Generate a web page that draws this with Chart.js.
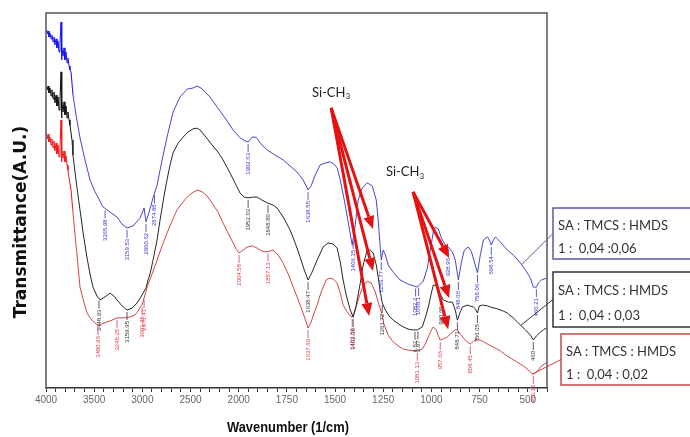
<!DOCTYPE html>
<html>
<head>
<meta charset="utf-8">
<script src="https://cdn.jsdelivr.net/npm/chart.js@4/dist/chart.umd.min.js"></script>
<style>
  body { margin: 0; background: #fff; }
  #wrap { width: 690px; height: 437px; }
</style>
</head>
<body>
<div id="wrap"><canvas id="ftir" width="690" height="437"></canvas></div>
<script>
// FTIR spectra, wavenumber (1/cm) vs transmittance (A.U., 0-100)
const blueWn = [3993,3984,3979,3969,3958,3948,3938,3927,3917,3907,3896,3886,3875,3865,3855,3844,3839,3834,3823,3813,3803,3792,3782,3772,3761,3751,3740,3720,3688,3647,3595,3543,3491,3408,3335,3263,3211,3159,3097,3024,2982,2962,2930,2889,2847,2795,2744,2681,2609,2536,2474,2432,2390,2297,2224,2141,2058,1993,1967,1951,1930,1910,1879,1853,1811,1769,1733,1697,1666,1650,1640,1624,1603,1577,1551,1525,1505,1489,1473,1452,1432,1411,1395,1380,1359,1333,1307,1286,1276,1265,1260,1250,1239,1224,1198,1162,1120,1073,1042,1021,1006,990,980,964,948,928,912,891,876,860,844,829,808,792,777,761,746,730,709,699,689,678,668,642,606,569,538,512,486,471,455,445,429,414,403];
const blueT = [95.5,94.4,95.2,93.6,94.7,93.1,94.1,92.3,93.6,91.5,93.1,90.7,92.5,89.6,91.7,97.6,87.5,91.2,88.5,90.7,87.5,89.6,86.7,88.0,85.9,84.8,84.3,78.1,72.8,66.7,60.8,55.5,52.3,48.3,46.9,45.6,43.7,42.7,43.2,45.3,48.0,44.3,46.9,50.7,54.1,60.8,66.9,73.6,77.6,79.7,80.0,80.5,80.0,77.6,74.9,72.0,68.8,66.7,65.9,65.6,66.9,66.9,64.8,63.5,62.1,60.8,59.2,57.6,55.5,53.9,52.8,53.9,56.8,59.5,60.0,60.3,59.7,58.7,55.5,50.1,44.3,38.1,43.5,50.1,53.3,54.7,53.9,50.1,44.8,37.3,34.1,36.8,35.5,32.8,30.9,28.8,27.7,26.9,28.5,32.0,36.8,41.6,42.9,42.4,40.0,38.1,37.6,36.3,34.1,28.8,33.6,36.8,37.6,36.3,33.6,30.7,35.5,39.5,40.3,39.5,38.1,39.5,40.3,38.9,36.8,35.2,33.3,31.5,29.3,26.9,26.9,28.0,28.8,29.1,29.3];

const blackWn = [3993,3984,3979,3969,3958,3948,3938,3927,3917,3907,3896,3886,3875,3865,3855,3844,3839,3834,3823,3813,3803,3792,3782,3772,3761,3751,3730,3720,3699,3678,3647,3616,3574,3543,3512,3470,3439,3387,3335,3294,3263,3211,3159,3107,3055,3014,2993,2962,2941,2920,2889,2847,2816,2775,2744,2712,2681,2629,2577,2525,2474,2432,2401,2349,2276,2214,2162,2089,2027,1993,1972,1951,1930,1904,1879,1848,1822,1801,1769,1733,1707,1681,1660,1640,1619,1593,1562,1536,1510,1489,1473,1458,1442,1421,1406,1390,1369,1354,1333,1317,1302,1286,1276,1265,1255,1239,1219,1198,1172,1146,1120,1099,1073,1047,1032,1016,1000,990,975,964,948,938,912,891,876,865,850,839,813,782,772,761,751,735,709,694,657,626,606,575,538,512,486,471,455,434,419,403];
const blackT = [80.3,79.5,80.5,78.7,80.0,77.9,79.5,77.1,78.9,76.0,78.1,75.2,77.6,74.1,77.1,84.3,72.0,76.8,73.6,76.3,72.8,75.2,72.0,73.6,71.5,70.1,66.1,62.1,57.6,53.3,47.5,41.6,34.7,30.4,26.9,24.5,23.5,24.3,25.3,24.5,23.5,21.9,20.8,21.3,22.7,24.3,25.3,26.7,28.8,30.4,34.1,39.5,44.8,51.2,55.5,59.5,62.7,65.3,66.9,68.3,69.1,69.3,68.8,67.2,64.8,62.9,60.8,57.3,54.1,52.0,50.9,50.7,50.9,50.9,50.1,49.3,48.8,48.0,45.6,42.1,38.7,34.9,31.5,28.8,30.9,34.1,37.6,38.7,38.4,37.3,33.6,28.8,24.8,20.8,18.9,22.1,28.0,32.8,36.8,36.8,36.0,32.8,29.6,25.6,22.7,20.8,19.2,18.1,17.1,16.3,15.7,15.5,15.5,16.3,18.7,21.6,25.3,27.5,27.2,26.1,24.5,23.5,22.9,22.9,20.8,18.1,20.3,21.6,22.1,21.6,21.1,20.0,21.9,22.1,21.9,21.6,21.1,20.5,20.0,18.7,16.8,15.5,14.1,12.8,13.9,14.9,15.5,16.0];

const redWn = [3993,3984,3979,3969,3958,3948,3938,3927,3917,3907,3896,3886,3875,3865,3855,3844,3839,3834,3823,3813,3803,3792,3782,3772,3761,3740,3720,3699,3678,3647,3605,3574,3533,3491,3460,3418,3367,3315,3263,3200,3128,3076,3045,3024,3003,2982,2951,2899,2847,2795,2744,2692,2640,2588,2536,2484,2432,2380,2328,2276,2214,2162,2110,2058,2027,1998,1977,1956,1930,1904,1879,1863,1837,1822,1796,1769,1743,1717,1691,1666,1650,1640,1624,1609,1593,1577,1562,1546,1530,1510,1489,1473,1458,1437,1421,1411,1395,1380,1359,1333,1312,1291,1276,1260,1245,1224,1198,1172,1146,1120,1094,1068,1047,1032,1016,1000,990,975,964,954,938,917,896,876,865,850,834,813,798,782,761,735,709,678,642,606,564,523,497,476,460,445,429,414,403];
const redT = [67.5,66.4,67.7,65.6,66.9,64.8,66.4,64.0,65.9,63.2,65.3,62.4,64.8,61.6,64.3,71.5,60.3,63.7,61.3,63.2,60.3,61.9,59.5,58.1,56.0,52.8,46.9,40.8,35.5,26.9,22.7,20.0,18.4,17.3,16.8,17.1,17.6,18.1,18.7,18.7,18.9,19.5,20.5,21.6,22.1,24.0,26.9,30.4,34.1,37.9,41.3,44.5,47.5,49.3,50.9,52.0,52.8,52.3,51.2,49.3,46.9,44.0,41.3,38.7,37.1,36.0,36.8,37.6,37.9,37.3,36.5,36.3,36.5,36.8,35.5,33.3,30.4,26.9,23.5,20.0,17.6,16.0,17.6,20.0,22.1,24.8,26.9,28.8,29.3,29.1,28.0,25.3,22.1,20.3,19.2,18.9,20.8,23.5,26.7,28.5,28.0,25.6,22.9,20.3,16.8,14.1,12.3,11.2,10.4,10.1,9.9,9.9,10.4,11.7,13.6,15.5,16.3,15.5,13.9,12.8,13.1,13.6,14.7,15.5,15.5,14.4,13.3,12.3,11.7,12.5,13.1,12.5,11.7,10.9,9.9,8.5,7.2,5.9,4.8,3.7,4.0,4.8,5.9,6.4,6.7];

// axis tick labels (the wavenumber axis is compressed 2x above 2000)
const tickLabels = [4000, 3500, 3000, 2500, 2000, 1750, 1500, 1250, 1000, 750, 500];

// peak labels [wavenumber, text]
const bluePeaks = [[3387,'3365.98'],[3159,'3159.53'],[2962,'2960.62'],[2874,'2874.88'],[1951,'1902.63'],[1640,'1638.55'],[1406,'1406.15'],[1260,'1259.77'],[1082,'1082.2'],[1066,'1068.1'],[912,'928.96'],[860,'848.06'],[761,'758.06'],[689,'698.54'],[455,'460.21']];
const blackPeaks = [[3450,'3448.93'],[3159,'3159.95'],[1951,'1952.03'],[1848,'1848.80'],[1640,'1638.47'],[1406,'1402.08'],[1255,'1261.72'],[1085,'4.82'],[1070,'3.97'],[950,'960.65'],[865,'848.71'],[761,'756.05'],[471,'460']];
const redPeaks = [[3460,'3480.96'],[3263,'3248.25'],[3003,'3001.45'],[2982,'2976.41'],[1998,'2004.58'],[1848,'1857.13'],[1640,'1637.69'],[1411,'1402.56'],[1073,'1081.13'],[954,'957.66'],[798,'808.45'],[471,'460.12']];

// Si-CH3 annotations: label position and arrow tips [wavenumber, T]
const siLabel1 = [1520, 78.7];
const siArrows1 = { from: [1520, 74.7], to: [[1303, 42.4], [1303, 31.2], [1323, 19.2]] };
const siLabel2 = [1136, 57.6];
const siArrows2 = { from: [1095, 52.3], to: [[908, 34.7], [908, 24.0], [913, 15.7]] };

const legendTitle = 'SA : TMCS : HMDS';
const legendRatios = ['1 :  0,04 :0,06', '1 :  0,04 : 0,03', '1 :  0,04 : 0,02'];
const legendAnchorWn = [532, 536, 476];

// custom x scale: 4000-2000 at 500 per unit, 2000-400 at 250 per unit
function toU(w) { return w >= 2000 ? (4000 - w) / 500 : 4 + (2000 - w) / 250; }
function fromU(u) { return u <= 4 ? 4000 - u * 500 : 2000 - (u - 4) * 250; }
const U_MAX = toU(400);

class FtirScale extends Chart.LinearScale {
  determineDataLimits() { this.min = 400; this.max = 4000; }
  buildTicks() {
    const ticks = [];
    for (let i = 0; i <= Math.round(U_MAX * 5); i++) ticks.push({ value: fromU(i / 5) });
    return ticks;
  }
  getPixelForValue(v) { return this.getPixelForDecimal(toU(v) / U_MAX); }
  getValueForPixel(p) { return fromU(this.getDecimalForPixel(p) * U_MAX); }
}
FtirScale.id = 'ftir';
FtirScale.defaults = {};
Chart.register(FtirScale);

function valueAt(wns, vals, w) {
  for (let i = 0; i < wns.length - 1; i++) {
    if (w <= wns[i] && w >= wns[i + 1]) {
      const t = (wns[i] - w) / (wns[i] - wns[i + 1]);
      return vals[i] + t * (vals[i + 1] - vals[i]);
    }
  }
  return vals[vals.length - 1];
}

function pts(wns, vals) { return wns.map((w, i) => ({ x: w, y: vals[i] })); }

const series = [
  { wn: blueWn, t: blueT, noisy: '#1414f0', color: '#4646cc', label: '#3535c8', peaks: bluePeaks, box: '#5a5aa8' },
  { wn: blackWn, t: blackT, noisy: '#111111', color: '#262626', label: '#333333', peaks: blackPeaks, box: '#333333' },
  { wn: redWn, t: redT, noisy: '#ee1a1a', color: '#d44545', label: '#d8404e', peaks: redPeaks, box: '#c84848' }
];

function arrow(ctx, x1, y1, x2, y2) {
  const a = Math.atan2(y2 - y1, x2 - x1);
  const hl = 13, hw = 5.5;
  const bx = x2 - hl * Math.cos(a), by = y2 - hl * Math.sin(a);
  ctx.beginPath();
  ctx.moveTo(x1, y1);
  ctx.lineTo(bx, by);
  ctx.stroke();
  ctx.beginPath();
  ctx.moveTo(x2, y2);
  ctx.lineTo(bx + hw * Math.sin(a), by - hw * Math.cos(a));
  ctx.lineTo(bx - hw * Math.sin(a), by + hw * Math.cos(a));
  ctx.closePath();
  ctx.fill();
}

function siText(ctx, x, y) {
  ctx.fillStyle = '#222';
  ctx.font = '13px Lato';
  ctx.textBaseline = 'middle';
  ctx.textAlign = 'left';
  const w = ctx.measureText('Si-CH').width;
  const x0 = x - (w + 5) / 2;
  ctx.fillText('Si-CH', x0, y);
  ctx.font = '8px Lato';
  ctx.fillText('3', x0 + w, y + 4);
}

const decor = {
  id: 'decor',
  afterDatasetsDraw(chart) {
    const ctx = chart.ctx, xs = chart.scales.x, ys = chart.scales.y;
    ctx.save();
    // peak labels
    series.forEach(s => {
      ctx.strokeStyle = s.label;
      ctx.fillStyle = s.label;
      ctx.lineWidth = 0.8;
      ctx.font = '6px "Liberation Sans"';
      s.peaks.forEach(([w, txt]) => {
        const px = xs.getPixelForValue(w);
        const py = ys.getPixelForValue(valueAt(s.wn, s.t, w));
        ctx.beginPath();
        ctx.moveTo(px, py + 2);
        ctx.lineTo(px, py + 10);
        ctx.stroke();
        ctx.save();
        ctx.translate(px, py + 11);
        ctx.rotate(-Math.PI / 2);
        ctx.textAlign = 'right';
        ctx.textBaseline = 'middle';
        ctx.fillText(txt, 0, 0);
        ctx.restore();
      });
    });
    // Si-CH3 arrows
    ctx.strokeStyle = '#e41313';
    ctx.fillStyle = '#e41313';
    ctx.lineWidth = 3;
    [siArrows1, siArrows2].forEach(g => {
      const x1 = xs.getPixelForValue(g.from[0]), y1 = ys.getPixelForValue(g.from[1]);
      g.to.forEach(p => arrow(ctx, x1, y1, xs.getPixelForValue(p[0]), ys.getPixelForValue(p[1])));
    });
    siText(ctx, xs.getPixelForValue(siLabel1[0]), ys.getPixelForValue(siLabel1[1]));
    siText(ctx, xs.getPixelForValue(siLabel2[0]), ys.getPixelForValue(siLabel2[1]));
    ctx.restore();
  },
  afterDraw(chart) {
    const ctx = chart.ctx, a = chart.chartArea, xs = chart.scales.x, ys = chart.scales.y;
    ctx.save();
    // frame
    ctx.strokeStyle = '#555';
    ctx.lineWidth = 1.5;
    ctx.beginPath();
    ctx.moveTo(a.left, a.bottom);
    ctx.lineTo(a.left, a.top);
    ctx.lineTo(a.right, a.top);
    ctx.lineTo(a.right, a.bottom);
    ctx.stroke();
    // axis titles
    ctx.fillStyle = '#111';
    ctx.textAlign = 'center';
    ctx.textBaseline = 'middle';
    ctx.font = 'bold 17px "DejaVu Sans"';
    ctx.save();
    ctx.translate(22, 222);
    ctx.rotate(-Math.PI / 2);
    ctx.fillText('Transmittance(A.U.)', 0, 0);
    ctx.restore();
    ctx.save();
    ctx.translate(288, 428);
    ctx.scale(0.86, 1);
    ctx.font = 'bold 15px "Liberation Sans"';
    ctx.fillText('Wavenumber (1/cm)', 0, 0);
    ctx.restore();
    // legend boxes with leader lines
    const boxes = [[553, 208, 51], [553, 272, 55], [561, 334, 51]];
    series.forEach((s, i) => {
      const [bx, by, bh] = boxes[i];
      const w = legendAnchorWn[i];
      const px = xs.getPixelForValue(w), py = ys.getPixelForValue(valueAt(s.wn, s.t, w));
      ctx.strokeStyle = s.box;
      ctx.lineWidth = 1;
      ctx.beginPath();
      ctx.moveTo(px, py);
      ctx.lineTo(bx, by + bh / 2);
      ctx.stroke();
      ctx.fillStyle = '#fff';
      ctx.fillRect(bx, by, 150, bh);
      ctx.lineWidth = 1.5;
      ctx.strokeRect(bx, by, 150, bh);
      ctx.fillStyle = '#333';
      ctx.textAlign = 'left';
      ctx.font = '14px Lato';
      ctx.save();
      ctx.translate(bx + 5, 0);
      ctx.scale(0.93, 1);
      ctx.fillText(legendTitle, 0, by + bh * 0.34);
      ctx.fillText(legendRatios[i], 0, by + bh * 0.79);
      ctx.restore();
    });
    ctx.restore();
  }
};

const ctx = document.getElementById('ftir').getContext('2d');
const chart = new Chart(ctx, {
  type: 'line',
  data: {
    datasets: series.map(s => ({
      data: pts(s.wn, s.t),
      borderColor: s.color,
      borderWidth: 1,
      pointRadius: 0,
      tension: 0,
      segment: { borderColor: c => (c.p0.parsed.x > 3730 ? s.noisy : s.color) }
    }))
  },
  options: {
    responsive: false,
    animation: false,
    layout: { padding: { left: 46, top: 13, right: 143, bottom: 0 } },
    scales: {
      x: {
        type: 'ftir',
        position: 'bottom',
        afterFit: s => { s.height = 49; },
        border: { display: true, color: '#333', width: 1.5 },
        grid: { drawOnChartArea: false, tickLength: 4, color: '#333' },
        ticks: {
          autoSkip: false,
          maxRotation: 0,
          padding: 2,
          color: '#666',
          font: { size: 10, family: 'Liberation Sans' },
          callback: v => {
            const m = tickLabels.find(t => Math.abs(t - v) < 1e-6);
            return m === undefined ? '' : String(m);
          }
        }
      },
      y: { type: 'linear', display: false, min: 0, max: 100 }
    },
    plugins: { legend: { display: false }, tooltip: { enabled: false } }
  },
  plugins: [decor]
});
</script>
</body>
</html>
